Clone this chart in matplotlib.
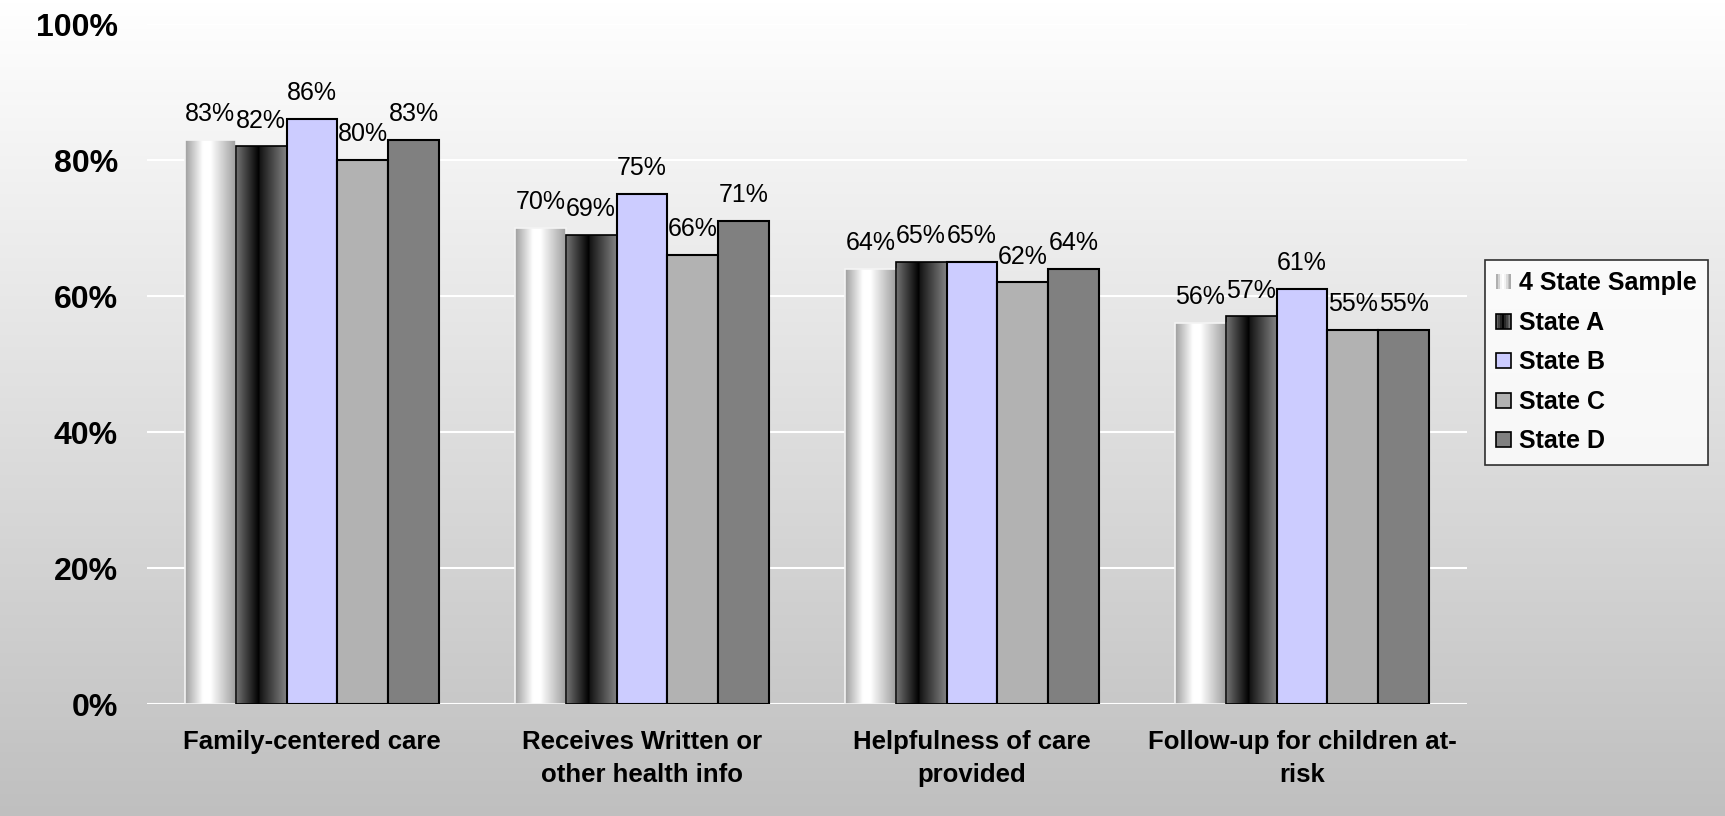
import numpy as np
import matplotlib
matplotlib.use("Agg")
import matplotlib.pyplot as plt
from matplotlib.patches import Rectangle
from matplotlib.legend_handler import HandlerBase

plt.rcParams['font.family'] = ['Liberation Sans', 'DejaVu Sans']

categories = ["Family-centered care", "Receives Written or\nother health info",
              "Helpfulness of care\nprovided", "Follow-up for children at-\nrisk"]
series_names = ["4 State Sample", "State A", "State B", "State C", "State D"]
sample_4 = [83, 70, 64, 56]
state_a = [82, 69, 65, 57]
state_b = [86, 75, 65, 61]
state_c = [80, 66, 62, 55]
state_d = [83, 71, 64, 55]
yticks = [0, 20, 40, 60, 80, 100]
ytick_labels = ["0%", "20%", "40%", "60%", "80%", "100%"]

all_series = [sample_4, state_a, state_b, state_c, state_d]

# gradient profiles (horizontal) for first two series
def profile_sample(t):
    return np.interp(t, [0, 0.35, 0.5, 1.0], [0.62, 1.0, 1.0, 0.62])

def profile_a(t):
    return np.interp(t, [0, 0.45, 0.47, 1.0], [0.45, 0.0, 0.08, 0.52])

profiles = [profile_sample, profile_a]
flat_colors = [None, None, "#ccccff", "#b2b2b2", "#808080"]

W, H = 1725, 816
fig = plt.figure(figsize=(W / 100, H / 100), dpi=100)

# background gradient
bg = fig.add_axes([0, 0, 1, 1], zorder=-10)
grad = np.linspace(1.0, 0.75, 256).reshape(-1, 1)
bg.imshow(np.dstack([grad, grad, grad]), aspect='auto', extent=[0, 1, 0, 1])
bg.set_axis_off()

left, right = 147 / W, 1467 / W
bottom, top = 1 - 704 / H, 1 - 24 / H
ax = fig.add_axes([left, bottom, right - left, top - bottom])
ax.patch.set_alpha(0)

n_cat = len(categories)
n_ser = len(all_series)
x = np.arange(n_cat)
group_w = 0.77
bw = group_w / n_ser

t = np.linspace(0, 1, 128)
for si, vals in enumerate(all_series):
    offs = -group_w / 2 + bw * (si + 0.5)
    if si < 2:
        bars = ax.bar(x + offs, vals, bw, facecolor='none',
                      edgecolor=('#f4f4f4' if si == 0 else 'black'),
                      linewidth=1.2, zorder=3)
        prof = profiles[si](t).reshape(1, -1)
        img = np.dstack([prof, prof, prof])
        for b in bars:
            x0, y0 = b.get_x(), b.get_y()
            im = ax.imshow(img, aspect='auto', interpolation='bilinear',
                           extent=[x0, x0 + b.get_width(), y0, y0 + b.get_height()],
                           zorder=2)
            im.set_clip_path(b)
    else:
        bars = ax.bar(x + offs, vals, bw, facecolor=flat_colors[si],
                      edgecolor='black', linewidth=1.5, zorder=3)
    for b, v in zip(bars, vals):
        ax.annotate(f"{v}%", (b.get_x() + b.get_width() / 2, v),
                    xytext=(0, 10), textcoords='offset points',
                    ha='center', va='bottom', fontsize=18, zorder=5)

ax.set_xlim(-0.5, n_cat - 0.5)
ax.set_ylim(0, 100)
ax.set_yticks(yticks)
ax.set_yticklabels(ytick_labels, fontsize=23, fontweight='bold')
ax.set_xticks(x)
ax.set_xticklabels(categories, fontsize=18.5, fontweight='bold', linespacing=1.45)
ax.tick_params(axis='both', length=0)
ax.tick_params(axis='y', pad=21)
ax.tick_params(axis='x', pad=19)
for s in ax.spines.values():
    s.set_visible(False)
ax.grid(axis='y', color='white', linewidth=1.5, zorder=0)
ax.set_axisbelow(True)


class GradHandler(HandlerBase):
    def __init__(self, prof, edge):
        super().__init__()
        self.prof = prof
        self.edge = edge

    def create_artists(self, legend, orig_handle, xdescent, ydescent,
                       width, height, fontsize, trans):
        size = min(width, height)
        x0 = -xdescent + width - size
        y0 = -ydescent
        arts = []
        n = 8
        for k in range(n):
            g = float(self.prof((k + 0.5) / n))
            arts.append(Rectangle((x0 + k * size / n, y0), size / n, size,
                                  facecolor=(g, g, g), edgecolor='none',
                                  transform=trans))
        if self.edge:
            arts.append(Rectangle((x0, y0), size, size, facecolor='none',
                                  edgecolor='black', linewidth=1.2, transform=trans))
        return arts


class SquareHandler(HandlerBase):
    def create_artists(self, legend, orig_handle, xdescent, ydescent,
                       width, height, fontsize, trans):
        size = min(width, height)
        x0 = -xdescent + width - size
        y0 = -ydescent
        return [Rectangle((x0, y0), size, size, facecolor=orig_handle.get_facecolor(),
                          edgecolor='black', linewidth=1.2, transform=trans)]


handles = [Rectangle((0, 0), 1, 1, facecolor='white'),
           Rectangle((0, 0), 1, 1, facecolor='black'),
           Rectangle((0, 0), 1, 1, facecolor=flat_colors[2]),
           Rectangle((0, 0), 1, 1, facecolor=flat_colors[3]),
           Rectangle((0, 0), 1, 1, facecolor=flat_colors[4])]
hmap = {handles[0]: GradHandler(profile_sample, False),
        handles[1]: GradHandler(profile_a, True)}
for h in handles[2:]:
    hmap[h] = SquareHandler()

leg = fig.legend(handles, series_names, handler_map=hmap,
                 loc='upper left', bbox_to_anchor=(1485 / W, 1 - 260 / H),
                 prop={'weight': 'bold', 'size': 18}, frameon=True, fancybox=False,
                 handlelength=0.6, handleheight=0.6, handletextpad=0.3,
                 labelspacing=0.62, borderpad=0.45, borderaxespad=0)
leg.get_frame().set_edgecolor('black')
leg.get_frame().set_linewidth(1.2)
leg.get_frame().set_facecolor('white')

fig.savefig("out.png", dpi=100)
